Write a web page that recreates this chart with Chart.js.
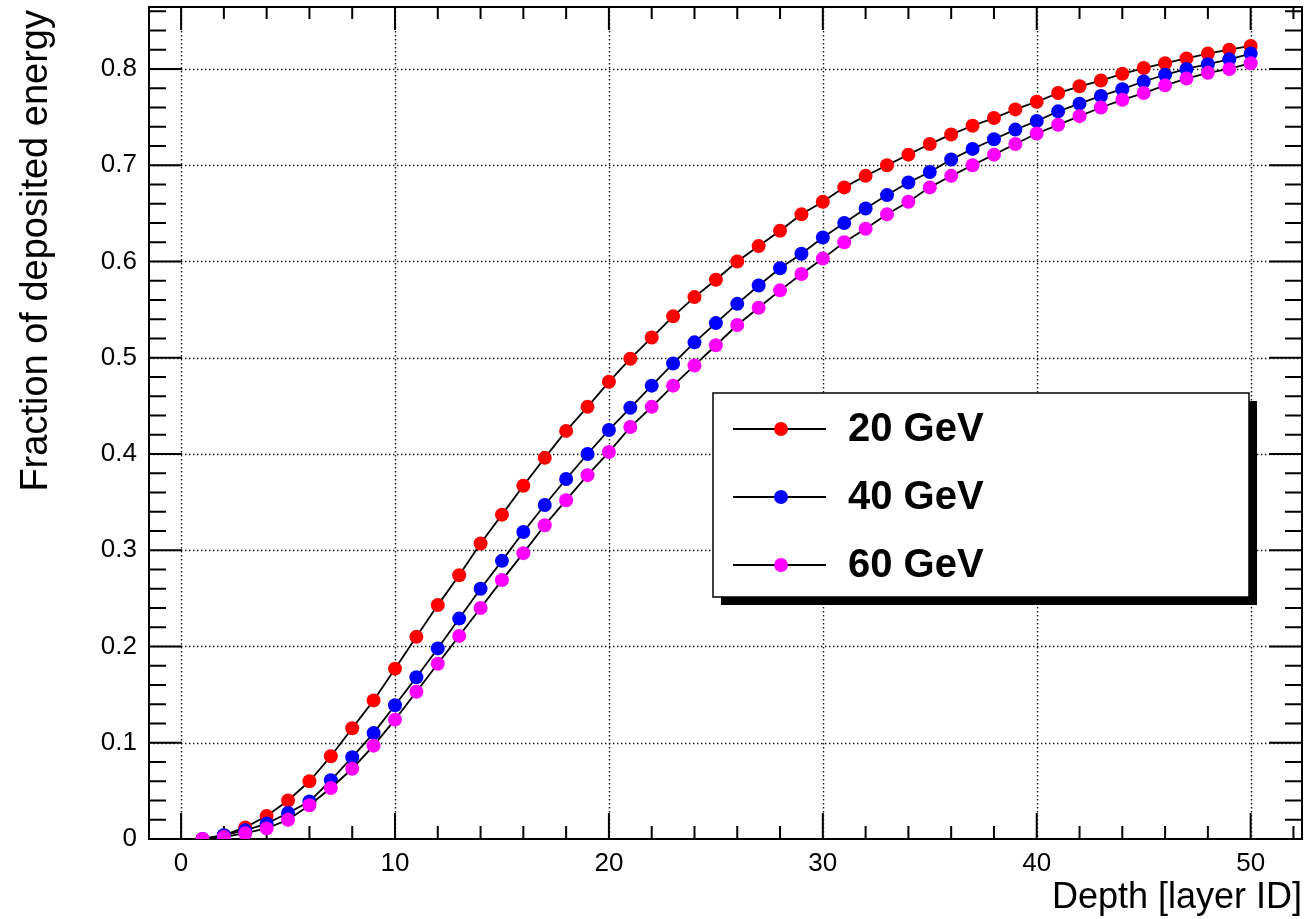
<!DOCTYPE html>
<html>
<head>
<meta charset="utf-8">
<script src="https://cdn.jsdelivr.net/npm/chart.js@4/dist/chart.umd.min.js"></script>
<style>
  html, body { margin: 0; padding: 0; background: #fff; }
  #wrap { width: 1315px; height: 919px; }
</style>
</head>
<body>
<div id="wrap"><canvas id="myChart"></canvas></div>
<script>
var layers = [1, 2, 3, 4, 5, 6, 7, 8, 9, 10,
              11, 12, 13, 14, 15, 16, 17, 18, 19, 20,
              21, 22, 23, 24, 25, 26, 27, 28, 29, 30,
              31, 32, 33, 34, 35, 36, 37, 38, 39, 40,
              41, 42, 43, 44, 45, 46, 47, 48, 49, 50];

var frac20 = [0.000, 0.004, 0.012, 0.024, 0.040, 0.060, 0.086, 0.115, 0.144, 0.177,
              0.210, 0.243, 0.274, 0.307, 0.337, 0.367, 0.396, 0.424, 0.449, 0.475,
              0.499, 0.521, 0.543, 0.563, 0.581, 0.600, 0.616, 0.632, 0.649, 0.662,
              0.677, 0.689, 0.700, 0.711, 0.722, 0.732, 0.741, 0.749, 0.758, 0.766,
              0.775, 0.782, 0.788, 0.795, 0.801, 0.806, 0.811, 0.816, 0.820, 0.824];

var frac40 = [0.000, 0.004, 0.009, 0.016, 0.027, 0.039, 0.061, 0.085, 0.110, 0.139,
              0.168, 0.198, 0.229, 0.260, 0.289, 0.319, 0.347, 0.374, 0.400, 0.425,
              0.448, 0.471, 0.494, 0.516, 0.536, 0.556, 0.575, 0.593, 0.608, 0.625,
              0.640, 0.655, 0.669, 0.682, 0.693, 0.706, 0.717, 0.727, 0.737, 0.746,
              0.756, 0.764, 0.772, 0.779, 0.787, 0.794, 0.800, 0.805, 0.810, 0.816];

var frac60 = [0.000, 0.002, 0.006, 0.011, 0.020, 0.035, 0.053, 0.073, 0.097, 0.124,
              0.153, 0.182, 0.211, 0.240, 0.269, 0.297, 0.326, 0.352, 0.378, 0.402,
              0.428, 0.449, 0.471, 0.492, 0.513, 0.534, 0.552, 0.570, 0.587, 0.603,
              0.620, 0.634, 0.649, 0.662, 0.677, 0.689, 0.700, 0.711, 0.722, 0.733,
              0.742, 0.751, 0.760, 0.768, 0.775, 0.783, 0.790, 0.796, 0.800, 0.806];

var seriesNames = ['20 GeV', '40 GeV', '60 GeV'];
var seriesColors = ['#ff0000', '#0000ff', '#ff00ff'];

var xTicks = [0, 10, 20, 30, 40, 50];
var yTicks = [0, 0.1, 0.2, 0.3, 0.4, 0.5, 0.6, 0.7, 0.8];

var FONT = '"Liberation Sans", Arial, Helvetica, sans-serif';

function points(ys) {
    var pts = [];
    for (var i = 0; i < layers.length; i++) {
        pts.push({x: layers[i], y: ys[i]});
    }
    return pts;
}

function graph(idx, ys) {
    return {
        label: seriesNames[idx],
        data: points(ys),
        borderColor: '#000',
        borderWidth: 1.8,
        pointRadius: 7,
        pointHoverRadius: 7,
        pointBorderWidth: 0,
        pointBackgroundColor: seriesColors[idx],
        fill: false,
        tension: 0,
        order: 3 - idx
    };
}

// frame, inward ticks and dotted grid, ROOT style
var framePlugin = {
    id: 'frame',
    beforeDraw: function(chart) {
        var c = chart.ctx;
        c.save();
        c.fillStyle = '#fff';
        c.fillRect(0, 0, chart.width, chart.height);
        c.restore();
    },
    beforeDatasetsDraw: function(chart) {
        var c = chart.ctx, a = chart.chartArea;
        var xs = chart.scales.x, ys = chart.scales.y;
        c.save();

        // grid
        c.strokeStyle = '#111';
        c.lineWidth = 1.4;
        c.setLineDash([1.4, 2.6]);
        xTicks.forEach(function(v) {
            var px = Math.round(xs.getPixelForValue(v)) + 0.5;
            c.beginPath(); c.moveTo(px, a.top); c.lineTo(px, a.bottom); c.stroke();
        });
        yTicks.forEach(function(v) {
            if (v === 0) return;
            var py = Math.round(ys.getPixelForValue(v)) + 0.5;
            c.beginPath(); c.moveTo(a.left, py); c.lineTo(a.right, py); c.stroke();
        });
        c.setLineDash([]);

        // ticks
        c.strokeStyle = '#000';
        c.lineWidth = 2;
        var v, px, py, major;
        for (v = 0; v <= xs.max + 1e-9; v += 2) {
            px = xs.getPixelForValue(v);
            major = (v % 10 === 0);
            c.beginPath();
            c.moveTo(px, a.bottom); c.lineTo(px, a.bottom - (major ? 26 : 13));
            c.moveTo(px, a.top); c.lineTo(px, a.top + (major ? 23 : 12));
            c.stroke();
        }
        for (var k = 0; k * 0.02 <= ys.max + 1e-9; k++) {
            py = ys.getPixelForValue(k * 0.02);
            major = (k % 5 === 0);
            c.beginPath();
            c.moveTo(a.left, py); c.lineTo(a.left + (major ? 33 : 17), py);
            c.moveTo(a.right, py); c.lineTo(a.right - (major ? 33 : 17), py);
            c.stroke();
        }

        // frame
        c.lineWidth = 2;
        c.strokeRect(a.left, a.top, a.right - a.left, a.bottom - a.top);

        // axis titles
        c.fillStyle = '#000';
        c.font = '36px ' + FONT;
        c.textAlign = 'right';
        c.textBaseline = 'alphabetic';
        c.fillText('Depth [layer ID]', a.right, 908);

        c.translate(47, 10);
        c.rotate(-Math.PI / 2);
        c.font = '38px ' + FONT;
        c.textAlign = 'right';
        c.fillText('Fraction of deposited energy', 0, 0);
        c.restore();
    },
    afterDraw: function(chart) {
        var c = chart.ctx;
        var L = 713, T = 393, R = 1249, B = 597;
        c.save();
        // shadow
        c.fillStyle = '#000';
        c.fillRect(L + 8, T + 8, R - L, B - T);
        c.fillStyle = '#fff';
        c.fillRect(L, T, R - L, B - T);
        c.strokeStyle = '#000';
        c.lineWidth = 1.5;
        c.strokeRect(L, T, R - L, B - T);

        c.font = 'bold 40px ' + FONT;
        c.textAlign = 'left';
        c.textBaseline = 'middle';
        for (var i = 0; i < seriesNames.length; i++) {
            var y = 429 + i * 68;
            c.strokeStyle = '#000';
            c.lineWidth = 2;
            c.beginPath(); c.moveTo(733, y); c.lineTo(826, y); c.stroke();
            c.fillStyle = seriesColors[i];
            c.beginPath(); c.arc(781, y, 7, 0, Math.PI * 2); c.fill();
            c.fillStyle = '#000';
            c.fillText(seriesNames[i], 848, y + 1);
        }
        c.restore();
    }
};

var ctx = document.getElementById('myChart').getContext('2d');

var chart = new Chart(ctx, {
    type: 'line',
    data: {
        datasets: [graph(0, frac20), graph(1, frac40), graph(2, frac60)]
    },
    options: {
        responsive: true,
        maintainAspectRatio: false,
        animation: false,
        events: [],
        layout: { padding: { left: 0, top: 7, right: 13, bottom: 0 } },
        plugins: {
            legend: { display: false },
            tooltip: { enabled: false }
        },
        scales: {
            x: {
                type: 'linear',
                min: -1.5,
                max: 52.4,
                afterBuildTicks: function(s) {
                    s.ticks = xTicks.map(function(v) { return {value: v}; });
                },
                afterFit: function(s) {
                    s.height = 80;
                    s.paddingLeft = 0;
                    s.paddingRight = 0;
                },
                grid: { display: false, drawTicks: false },
                border: { display: false },
                ticks: {
                    color: '#000',
                    padding: 9,
                    maxRotation: 0,
                    font: { family: FONT, size: 26 }
                }
            },
            y: {
                type: 'linear',
                min: 0,
                max: 0.8644,
                afterBuildTicks: function(s) {
                    s.ticks = yTicks.map(function(v) { return {value: v}; });
                },
                afterFit: function(s) {
                    s.width = 149;
                    s.paddingTop = 0;
                    s.paddingBottom = 0;
                },
                grid: { display: false, drawTicks: false },
                border: { display: false },
                ticks: {
                    color: '#000',
                    padding: 12,
                    font: { family: FONT, size: 26 },
                    callback: function(v) { return v === 0 ? '0' : v.toFixed(1); }
                }
            }
        }
    },
    plugins: [framePlugin]
});
</script>
</body>
</html>
